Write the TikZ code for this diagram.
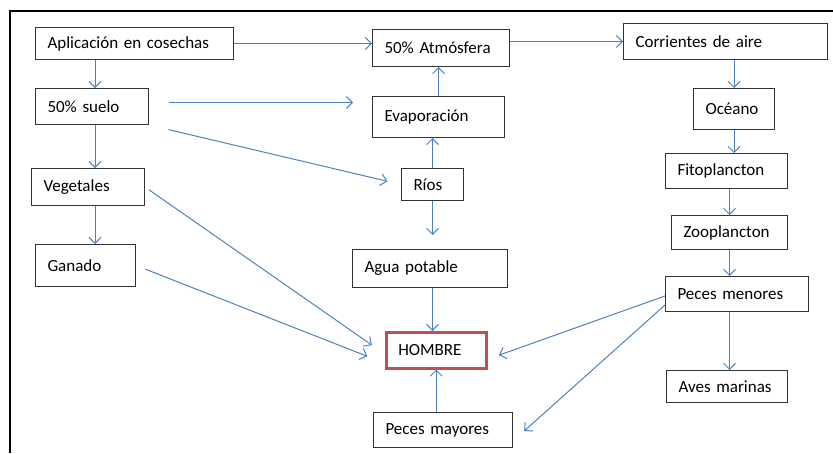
\documentclass[tikz,border=0pt]{standalone}
\usepackage{fontspec}
\setmainfont{Carlito}[WordSpace=0.8]
\usetikzlibrary{arrows.meta}
\definecolor{azul}{HTML}{4F81BD}
\definecolor{rojo}{HTML}{C0504D}
\tikzstyle{caja}=[draw=black!80, line width=1pt, inner xsep=12pt, inner ysep=0pt, anchor=north west, font=\fontsize{17}{20}\selectfont]
\tikzstyle{flecha}=[azul, line width=1pt, -{Straight Barb[length=6pt,width=12pt]}]

\begin{document}
\begin{tikzpicture}[x=1pt, y=-1pt]
\useasboundingbox (0,0) rectangle (833,453);
\draw[line width=1.8pt] (10,453) -- (10,11) -- (833,11);

\node[caja, text width=174pt, minimum height=32pt] (apl)   at (35, 27)  {Aplicación en cosechas};
\node[caja, text width=113pt, minimum height=37pt] (atm)   at (372, 29) {50\% Atmósfera};
\node[caja, text width=180pt, minimum height=36pt] (corr)  at (623, 23) {Corrientes de aire};
\node[caja, text width=89pt,  minimum height=36pt] (suelo) at (35, 88)  {50\% suelo};
\node[caja, text width=108pt, minimum height=41pt] (evap)  at (372, 96) {Evaporación};
\node[caja, text width=57pt,  minimum height=41pt] (oce)   at (693, 88) {Océano};
\node[caja, text width=89pt,  minimum height=37pt] (veg)   at (31, 168) {Vegetales};
\node[caja, text width=38pt,  minimum height=32pt] (rios)  at (401, 168) {Ríos};
\node[caja, text width=98pt,  minimum height=35pt] (fito)  at (665, 153) {Fitoplancton};
\node[caja, text width=92pt,  minimum height=34pt] (zoo)   at (671, 215) {Zooplancton};
\node[caja, text width=76pt,  minimum height=42pt] (gan)   at (35, 244) {Ganado};
\node[caja, text width=131pt, minimum height=38pt] (agua)  at (352, 249) {Agua potable};
\node[caja, text width=119pt, minimum height=35pt] (men)   at (665, 276) {Peces menores};
\node[caja, text width=76pt,  minimum height=36pt, draw=rojo, line width=2.5pt] (hom) at (385, 331) {HOMBRE};
\node[caja, text width=97pt,  minimum height=32pt] (aves)  at (666, 370) {Aves marinas};
\node[caja, text width=115pt, minimum height=35pt] (may)   at (373, 412) {Peces mayores};

\draw[flecha] (apl.east) -- (apl.east -| atm.west);
\draw[flecha] (atm.east |- corr.west) -- (corr.west);
\draw[flecha] ([xshift=3pt]apl.south -| suelo) -- ([xshift=3pt]suelo.north);
\draw[flecha] ([xshift=3pt]suelo.south) -- ([xshift=3pt]suelo.south |- veg.north);
\draw[flecha] ([xshift=7pt]veg.south) -- ([xshift=7pt]veg.south |- gan.north);
\draw[flecha, shorten <=20pt, shorten >=19pt] ([yshift=4pt]suelo.east) -- ([yshift=4pt]suelo.east -| evap.west);
\draw[flecha, shorten <=20pt, shorten >=14pt] (suelo.south east) -- (rios.west);
\draw[flecha, shorten <=5pt, shorten >=16pt] (veg.east) -- ([yshift=-4pt]hom.west);
\draw[flecha, shorten <=10pt, shorten >=19pt] (gan.east) -- ([yshift=-13pt]hom.west);

\draw[flecha] (evap.north) -- (evap.north |- atm.south);
\draw[flecha] (rios.north) -- (rios.north |- evap.south);
\draw[flecha, shorten >=14pt] (rios.south) -- (rios.south |- agua.north);
\draw[flecha] (agua.south -| rios) -- (hom.north -| rios);
\draw[flecha] (may.north -| hom) -- (hom.south);

\draw[flecha] (corr.south -| oce) -- (oce);
\draw[flecha] (oce.south) -- (oce.south |- fito.north);
\draw[flecha] (fito.south -| zoo) -- (zoo);
\draw[flecha] (zoo.south) -- (zoo.south |- men.north);
\draw[flecha] (men.south -| zoo) -- (aves.north -| zoo);
\draw[flecha, shorten >=12pt] ([yshift=-2pt]men.west) -- ([yshift=-9pt]hom.east);
\draw[flecha, shorten >=15pt] ([yshift=-11pt]men.west) -- ([yshift=-11pt]may.east);

\end{tikzpicture}
\end{document}
